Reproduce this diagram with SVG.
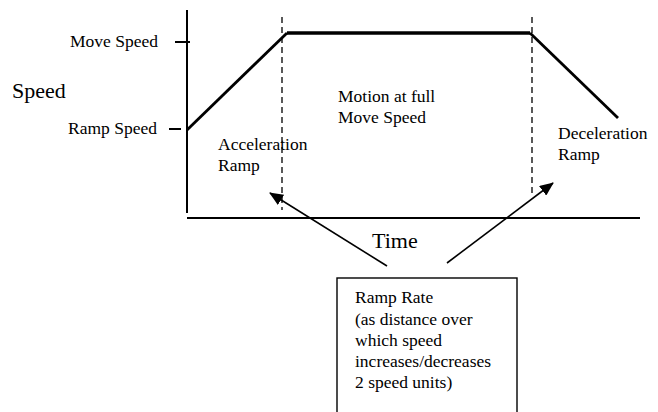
<svg xmlns="http://www.w3.org/2000/svg" width="658" height="412" viewBox="0 0 658 412">
<style>
text{font-family:"Liberation Serif","Times New Roman",serif;fill:#000;font-size:17.5px}
.big{font-size:22px}
.ax{stroke:#000;stroke-width:2;fill:none}
.dash{stroke:#000;stroke-width:1.3;stroke-dasharray:6,4;fill:none}
.conn{stroke:#000;stroke-width:1.6;fill:none}
</style>
<defs>
<marker id="ah" markerWidth="14" markerHeight="12" refX="13" refY="6" orient="auto" markerUnits="userSpaceOnUse">
<path d="M0,0 L14,6 L0,12 Z" fill="#000"/>
</marker>
</defs>
<rect width="658" height="412" fill="#fff"/>
<g id="axes">
<line class="ax" x1="187" y1="10" x2="187" y2="213"/>
<line class="ax" x1="187" y1="218" x2="640" y2="218"/>
<line class="ax" x1="175" y1="42" x2="190" y2="42"/>
<line class="ax" x1="169" y1="129" x2="181" y2="129"/>
<text x="70" y="47">Move Speed</text>
<text x="68" y="134">Ramp Speed</text>
<text class="big" x="12" y="98">Speed</text>
<text class="big" x="372" y="248">Time</text>
</g>
<g id="profile">
<polyline points="187,130 287,33" stroke="#000" stroke-width="2.8" fill="none"/>
<line x1="287" y1="33" x2="530" y2="33" stroke="#000" stroke-width="3.6"/>
<line x1="530" y1="33" x2="618" y2="118" stroke="#000" stroke-width="2.8"/>
<line class="dash" x1="282" y1="17" x2="282" y2="210"/>
<line class="dash" x1="532" y1="17" x2="532" y2="197"/>
</g>
<g id="accel">
<text x="218" y="150">Acceleration</text>
<text x="218" y="171">Ramp</text>
</g>
<g id="motion">
<text x="338" y="102">Motion at full</text>
<text x="338" y="123">Move Speed</text>
</g>
<g id="decel">
<text x="558" y="139">Deceleration</text>
<text x="558" y="160">Ramp</text>
</g>
<g id="ramprate">
<rect x="337" y="278" width="180" height="150" fill="none" stroke="#000" stroke-width="1.4"/>
<text x="355" y="303">Ramp Rate</text>
<text x="355" y="325">(as distance over</text>
<text x="355" y="346">which speed</text>
<text x="355" y="367">increases/decreases</text>
<text x="355" y="388">2 speed units)</text>
</g>
<g id="connectors">
<line class="conn" x1="387" y1="266" x2="270" y2="193" marker-end="url(#ah)"/>
<line class="conn" x1="447" y1="263" x2="553" y2="183" marker-end="url(#ah)"/>
</g>
</svg>
